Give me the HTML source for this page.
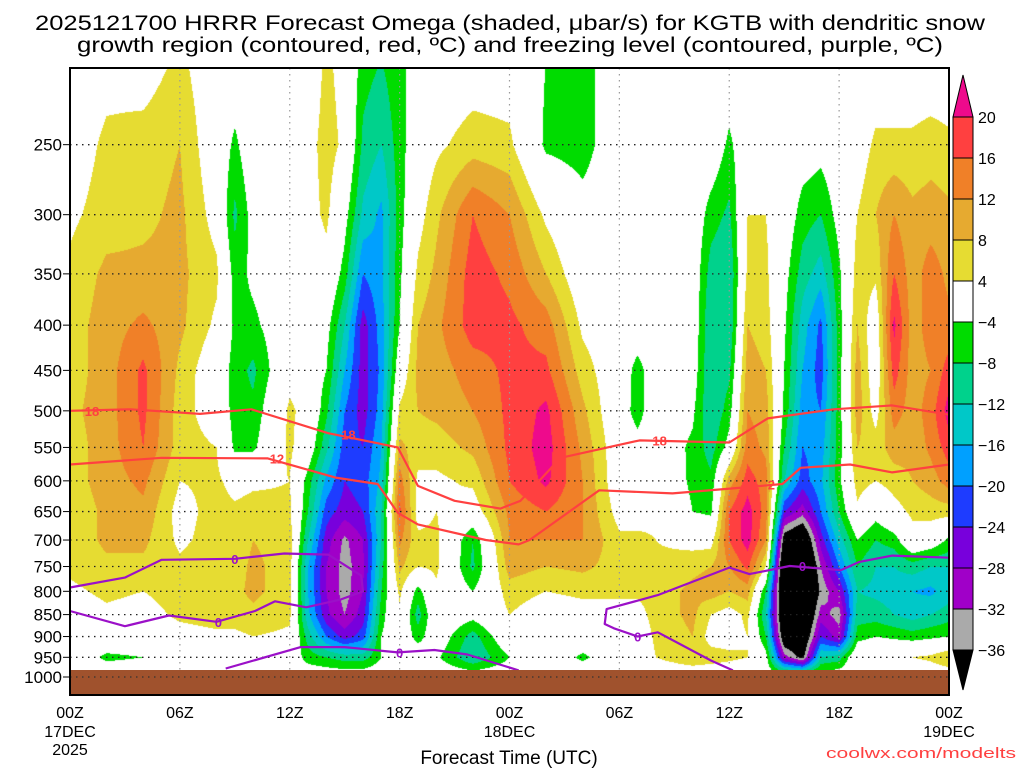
<!DOCTYPE html>
<html><head><meta charset="utf-8">
<style>
html,body{margin:0;padding:0;background:#fff;}
#wrap{position:relative;width:1024px;height:768px;overflow:hidden;background:#fff;font-family:"Liberation Sans",sans-serif;}
#plot-canvas{position:absolute;left:70px;top:68px;}
#overlay{position:absolute;left:0;top:0;}
</style></head>
<body>
<div id="wrap">
<canvas id="plot-canvas" width="879" height="602"></canvas>
<svg id="overlay" width="1024" height="768" xmlns="http://www.w3.org/2000/svg">
  <g font-family="Liberation Sans, sans-serif" font-size="21" fill="#000">
    <text x="35" y="30" textLength="950" lengthAdjust="spacingAndGlyphs">2025121700 HRRR Forecast Omega (shaded, μbar/s) for KGTB with dendritic snow</text>
    <text x="77" y="52" textLength="866" lengthAdjust="spacingAndGlyphs">growth region (contoured, red, ºC) and freezing level (contoured, purple, ºC)</text>
  </g>
  <g id="grid"></g>
  <g id="contours"></g>
  <rect x="70" y="670" width="879" height="25" fill="#a0522d"/>
  <g id="grid2"></g>
  <rect x="70" y="68" width="879" height="627" fill="none" stroke="#000" stroke-width="2"/>
  <g id="yaxis" font-size="17" fill="#000"></g>
  <g id="xaxis" font-size="16" fill="#000"></g>
  <text x="509" y="764" text-anchor="middle" font-size="19">Forecast Time (UTC)</text>
  <text x="1016" y="758" text-anchor="end" font-size="15" fill="#ff4040" textLength="190" lengthAdjust="spacingAndGlyphs">coolwx.com/modelts</text>
  <g id="colorbar"></g>
</svg>
</div>
<script>
// ---- data ----
const times = [0,2,4,6,8,9,10,12,13,14,15,16,17,18,19,20,22,24,26,28,30,31,32,34,35,36,37,38,39,40,41,42,43,44,45,46,47,48];
const levels = [200,250,300,350,400,450,500,550,600,650,700,750,800,850,900,950,1000];
const omegaByTime = [
[0,1,3,5,6,6,7,6,6,5,5,5,3,1,0,0,0],
[2,5,6,9,10,10,10,10,10,9,9,7,5,3,0,-5,0],
[1,6,7,9,13,17,17,16,13,11,9,7,4,2,0,-4,0],
[5,8,9,9,9,7,6,6,4,2,3,5,6,5,2,0,0],
[0,0,2,5,3,0,1,4,5,6,6,7,8,6,3,0,0],
[0,-5,-9,-6,-5,-6,-6,-5,2,5,5,6,7,6,3,0,0],
[0,0,-2,-3,-5,-9,-7,-5,3,6,8,9,9,7,4,0,0],
[0,0,0,0,0,2,5,5,4,5,6,6,6,5,3,0,0],
[0,2,2,0,0,0,2,0,-6,-8,-12,-16,-16,-15,-10,-6,0],
[5,6,5,2,-2,-4,-7,-11,-17,-22,-26,-28,-28,-27,-20,-8,0],
[2,3,-2,-6,-12,-16,-20,-22,-24,-26,-33,-34,-34,-32,-26,-10,0],
[-6,-9,-13,-20,-26,-26,-26,-24,-22,-24,-28,-29,-28,-26,-22,-10,0],
[-8,-12,-17,-17,-18,-19,-18,-16,-15,-12,-12,-10,-8,-6,-4,-4,0],
[-5,-6,-6,-5,-4,0,5,9,14,17,13,9,5,3,1,-1,0],
[-2,0,2,5,8,9,8,6,3,2,5,4,-6,-10,-6,0,0],
[0,3,7,9,11,10,9,6,3,4,5,5,3,1,0,-3,0],
[1,6,16,18,18,14,12,9,5,1,-8,-9,-4,-2,-10,-12,0],
[1,5,12,15,17,17,17,17,16,13,12,10,6,4,1,-4,0],
[-4,-5,3,8,14,17,21,22,21,16,12,8,4,1,0,0,0],
[-6,-6,-2,0,3,6,9,11,12,12,12,9,5,2,0,-5,0],
[0,0,0,0,0,0,-1,0,0,2,5,6,5,2,0,0,0],
[0,0,0,0,0,-6,-6,-2,0,2,5,6,5,2,0,0,0],
[0,0,0,0,0,0,0,0,1,3,4,5,6,6,5,4,0],
[0,0,0,0,0,-1,-3,-5,-5,-4,2,7,9,9,8,7,0],
[0,0,-6,-10,-12,-12,-12,-10,-7,-5,2,8,10,4,2,6,0],
[0,-5,-9,-12,-12,-9,-6,-2,10,16,16,12,8,2,2,5,0],
[0,0,4,5,8,10,12,14,18,22,22,17,10,5,4,4,0],
[0,0,4,5,6,8,10,11,14,14,12,4,-8,-12,-8,-2,0],
[0,0,0,-2,-3,-4,-5,-8,-12,-24,-40,-48,-48,-46,-42,-30,0],
[0,-1,-6,-10,-14,-16,-18,-20,-22,-30,-45,-50,-50,-48,-44,-38,0],
[0,-2,-8,-14,-21,-22,-20,-18,-17,-20,-26,-32,-35,-30,-24,-12,0],
[0,0,-2,-5,-6,-6,-6,-6,-5,-8,-14,-20,-28,-34,-30,-10,0],
[0,1,4,6,8,10,10,8,6,3,-4,-8,-12,-10,-6,2,0],
[0,5,8,5,0,0,2,6,4,-2,-8,-12,-13,-10,-4,3,0],
[0,5,12,16,21,18,14,10,6,2,-6,-12,-14,-12,-5,3,0],
[0,5,9,10,10,10,10,9,8,5,2,-10,-16,-14,-6,4,0],
[0,6,10,14,14,12,14,13,10,6,0,-12,-17,-12,-5,5,0],
[0,5,9,11,13,18,22,18,14,6,-5,-12,-14,-10,-4,8,0]
];
const contourLevels = [-36,-32,-28,-24,-20,-16,-12,-8,-4,4,8,12,16,20];
const colorbarLabels = ["20","16","12","8","4","−4","−8","−12","−16","−20","−24","−28","−32","−36"];
const yTickLabels = [250,300,350,400,450,500,550,600,650,700,750,800,850,900,950,1000];
const xTickHours = [0,6,12,18,24,30,36,42,48];
const xTickLabels = ["00Z","06Z","12Z","18Z","00Z","06Z","12Z","18Z","00Z"];
// dendritic growth isotherms (hour, hPa)
const isoMinus18 = [[0,500],[3.3,498],[7.1,504],[9.9,498],[14.1,530],[17.9,550],[19,608],[21,632],[23.5,645],[24.6,632],[26.8,565],[31.1,540],[36,543],[38.1,510],[41.7,498],[44.9,493],[48,505]];
const isoMinus12 = [[0,575],[5,565],[10.8,566],[14.5,595],[16.8,605],[17.9,652],[19,672],[22.7,700],[24.5,708],[25.1,700],[28.9,615],[32.9,620],[36.2,612],[38.9,605],[39.9,580],[42.6,575],[44.9,587],[48,575]];
// freezing level (hour, hPa)
const freezeA = [[0,792],[3,772],[5,737],[9,735],[11.7,725],[14.1,727],[15.9,768],[16,800],[14.8,817],[12.9,834],[11.2,821],[10.1,842],[8,866],[5.4,852],[3,876],[0,842]];
const freezeB = [[8.5,978],[12.6,925],[15,925],[17.9,938],[19.9,932],[21.7,943],[24.5,983]];
const freezeC = [[36.2,983],[35,958],[32.1,890],[31,900],[29.7,881],[29.2,871],[29.3,838],[32.1,808],[36,752],[37.1,765],[39.3,749],[42.1,757],[43.1,741],[44.9,729],[48,733]];
const redLabels = [["18",1.2,500],["18",15.2,532],["12",11.3,566],["18",32.2,540],["2",38.3,606]];
const purpleLabels = [["0",9.0,735],["0",8.1,866],["0",18.0,938],["0",31.0,900],["0",40.0,749]];

// ---- axes ----
const X0=70, X1=949, H=48;
function xOf(h){return X0+h*(X1-X0)/H;}
function yOf(p){return 677-384*Math.log(1000/p);}
const palette=["#000000","#aaaaaa","#a000c8","#7800dc","#1e3cff","#00a0ff","#00c8c8","#00d28c","#00dc00","#ffffff","#e6dc32","#e6aa30","#f08028","#ff4040","#ee0a8c"];
function hex(c){return [parseInt(c.substr(1,2),16),parseInt(c.substr(3,2),16),parseInt(c.substr(5,2),16)];}
const palRGB=palette.map(hex);

// ---- shaded field ----
(function(){
  const cv=document.getElementById('plot-canvas');const ctx=cv.getContext('2d');
  const W=cv.width,Hh=cv.height;const img=ctx.createImageData(W,Hh);
  const rowY=levels.map(yOf);
  for(let py=0;py<Hh;py++){
    const y=68+py+0.5;
    let i=0;while(i<levels.length-2&&y>rowY[i+1])i++;
    let fy=(y-rowY[i])/(rowY[i+1]-rowY[i]);fy=Math.max(0,Math.min(1,fy));
    for(let px=0;px<W;px++){
      const h=(px+0.5)*H/(X1-X0);
      let j=0;while(j<times.length-2&&h>times[j+1])j++;
      let fx=(h-times[j])/(times[j+1]-times[j]);fx=Math.max(0,Math.min(1,fx));
      const a=omegaByTime[j][i],b=omegaByTime[j+1][i],c=omegaByTime[j][i+1],d=omegaByTime[j+1][i+1];
      const v=(a*(1-fx)+b*fx)*(1-fy)+(c*(1-fx)+d*fx)*fy;
      let k=0;while(k<contourLevels.length&&v>=contourLevels[k])k++;
      const col=palRGB[k];const o=(py*W+px)*4;
      img.data[o]=col[0];img.data[o+1]=col[1];img.data[o+2]=col[2];img.data[o+3]=255;
    }
  }
  ctx.putImageData(img,0,0);
})();

const NS="http://www.w3.org/2000/svg";
function mk(tag,attrs,parent){const e=document.createElementNS(NS,tag);for(const k in attrs)e.setAttribute(k,attrs[k]);parent.appendChild(e);return e;}

// ---- grid ----
(function(){
  const g=document.getElementById('grid');const g2=document.getElementById('grid2');
  yTickLabels.forEach(p=>{
    const y=yOf(p);
    const tg=(p===1000)?g2:g;
    const l=mk('line',{x1:X0,x2:X1,y1:y,y2:y,stroke:(p===1000)?'#333':'#222','stroke-width':1.3,'stroke-dasharray':'1.5 4.5'},tg);
    
    
  });
  xTickHours.forEach((h,i)=>{
    if(i===0||i===xTickHours.length-1)return;
    const x=xOf(h);
    const l=mk('line',{x1:x,x2:x,y1:68,y2:695,stroke:'#999','stroke-width':1.2,'stroke-dasharray':'1.5 4.5'},g);
    
    
  });
})();

// ---- contours ----
(function(){
  const g=document.getElementById('contours');
  function draw(pts,color,name){
    const d=pts.map((p,i)=>(i?'L':'M')+xOf(p[0]).toFixed(1)+' '+yOf(p[1]).toFixed(1)).join(' ');
    const el=mk('path',{d:d,fill:'none',stroke:color,'stroke-width':2.2,'stroke-linejoin':'round'},g);
    
    
  }
  draw(isoMinus18,'#ff4040','isotherm-minus18');
  draw(isoMinus12,'#ff4040','isotherm-minus12');
  draw(freezeA,'#9b10c8','freezing-level-a');
  draw(freezeB,'#9b10c8','freezing-level-b');
  draw(freezeC,'#9b10c8','freezing-level-c');
  redLabels.forEach(l=>{
    const t=mk('text',{x:xOf(l[1]),y:yOf(l[2])+5,'text-anchor':'middle','font-size':13,'font-weight':'bold',fill:'#ff4040'},g);
    t.textContent=l[0];
    
    
  });
  purpleLabels.forEach(l=>{
    const t=mk('text',{x:xOf(l[1]),y:yOf(l[2])+5,'text-anchor':'middle','font-size':13,'font-weight':'bold',fill:'#9b10c8'},g);
    t.textContent=l[0];
    
    
  });
})();

// ---- axes ----
(function(){
  const ya=document.getElementById('yaxis');
  yTickLabels.forEach(p=>{
    const y=yOf(p);
    const t=mk('text',{x:62,y:y+6,'text-anchor':'end'},ya);
    t.textContent=String(p);
    
    
    const tk=mk('line',{x1:63,x2:70,y1:y,y2:y,stroke:'#000','stroke-width':1},ya);
    
    
  });
  const xa=document.getElementById('xaxis');
  xTickHours.forEach((h,i)=>{
    const x=xOf(h);
    const t=mk('text',{x:x,y:718,'text-anchor':'middle'},xa);
    t.textContent=xTickLabels[i];
    
    
  });
  [["17DEC",0,737],["2025",0,755],["18DEC",24,737],["19DEC",48,737]].forEach(d=>{
    const t=mk('text',{x:xOf(d[1]),y:d[2],'text-anchor':'middle'},xa);
    t.textContent=d[0];
    
    
  });
})();

// ---- colorbar ----
(function(){
  const g=document.getElementById('colorbar');
  const bx=953,bw=20,top=117,step=41;
  const up=mk('polygon',{points:`${bx},${top} ${bx+bw},${top} ${bx+bw/2},75`,fill:palette[14],stroke:'#000','stroke-width':1},g);
  
  
  for(let k=0;k<13;k++){
    const r=mk('rect',{x:bx,y:top+k*step,width:bw,height:step,fill:palette[13-k],stroke:'#000','stroke-width':1},g);
    
    
  }
  const bot=top+13*step;
  const dn=mk('polygon',{points:`${bx},${bot} ${bx+bw},${bot} ${bx+bw/2},690`,fill:palette[0],stroke:'#000','stroke-width':1},g);
  
  
  colorbarLabels.forEach((s,k)=>{
    const t=mk('text',{x:978,y:top+k*step+6,'font-size':16,fill:'#000'},g);
    t.textContent=s;
    
    
  });
})();
</script>
</body></html>
